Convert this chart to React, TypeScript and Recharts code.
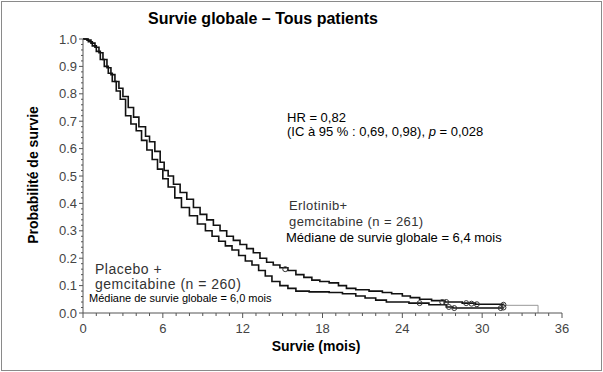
import { ComposedChart, Line, Scatter, XAxis, YAxis } from "recharts"

// Kaplan-Meier estimates: [month, survival probability]
const erlotinibSteps = [
  [0, 1.0], [0.3, 0.996], [0.6, 0.985], [0.9, 0.97], [1.2, 0.95], [1.5, 0.925],
  [1.8, 0.895], [2.1, 0.87], [2.4, 0.845], [2.7, 0.82], [3.0, 0.79], [3.4, 0.75],
  [3.8, 0.715], [4.2, 0.68], [4.7, 0.645], [5.0, 0.625], [5.4, 0.59], [5.8, 0.55],
  [6.1, 0.52], [6.4, 0.5], [6.8, 0.47], [7.3, 0.44], [7.8, 0.415], [8.3, 0.385],
  [8.8, 0.36], [9.3, 0.34], [9.8, 0.32], [10.3, 0.3], [10.8, 0.28], [11.3, 0.265],
  [11.8, 0.25], [12.3, 0.235], [12.8, 0.22], [13.3, 0.2], [13.8, 0.185], [14.3, 0.175],
  [14.8, 0.165], [15.4, 0.155], [16.0, 0.14], [16.6, 0.13], [17.2, 0.12], [17.8, 0.115],
  [18.5, 0.11], [19.2, 0.1], [19.8, 0.09], [20.5, 0.085], [21.5, 0.08], [22.5, 0.075],
  [23.2, 0.07], [24.0, 0.062], [24.6, 0.056], [25.3, 0.05], [26.2, 0.045], [27.2, 0.04],
  [28.5, 0.036], [29.5, 0.032], [31.6, 0.03],
]
const erlotinibTail = [[31.6, 0.028], [34.2, 0.028], [34.2, 0]]
const erlotinibCensored = [
  [15.2, 0.16], [27.0, 0.04], [27.3, 0.04], [28.8, 0.036], [29.2, 0.034], [29.6, 0.032], [31.6, 0.03],
]

const placeboSteps = [
  [0, 1.0], [0.4, 0.99], [0.7, 0.975], [1.0, 0.955], [1.3, 0.925], [1.6, 0.9],
  [1.9, 0.875], [2.2, 0.845], [2.5, 0.81], [2.8, 0.78], [3.2, 0.72], [3.6, 0.69],
  [4.0, 0.665], [4.4, 0.63], [4.8, 0.595], [5.2, 0.56], [5.6, 0.525], [6.0, 0.49],
  [6.4, 0.46], [6.9, 0.42], [7.4, 0.385], [8.0, 0.355], [8.6, 0.325], [9.2, 0.3],
  [9.7, 0.28], [10.2, 0.262], [10.7, 0.245], [11.2, 0.23], [11.7, 0.21], [12.2, 0.19],
  [12.7, 0.175], [13.2, 0.155], [13.7, 0.135], [14.2, 0.115], [14.8, 0.1], [15.4, 0.09],
  [16.0, 0.08], [17.0, 0.077], [18.5, 0.075], [19.5, 0.07], [20.5, 0.062], [21.2, 0.055],
  [22.0, 0.047], [22.8, 0.04], [24.5, 0.036], [26.0, 0.03], [27.3, 0.022], [27.8, 0.018],
  [31.6, 0.018],
]
const placeboCensored = [[25.3, 0.036], [27.5, 0.022], [27.9, 0.018], [31.4, 0.018], [31.6, 0.02]]

const xLabels = [0, 6, 12, 18, 24, 30, 36]
const yLabels = ["0.0", "0.1", "0.2", "0.3", "0.4", "0.5", "0.6", "0.7", "0.8", "0.9", "1.0"]

const toPts = (arr: number[][]) => arr.map(([t, s]) => ({ t, s }))

const xTicks = Array.from({ length: 37 }, (_, i) => i)
const yTicks = Array.from({ length: 51 }, (_, i) => Math.round(i * 2) / 100)

const font = "'Liberation Sans', Arial, sans-serif"

const XTick = (props: any) => {
  const { x, y, payload } = props
  const major = xLabels.includes(payload.value)
  return (
    <g>
      <line x1={x} y1={y} x2={x} y2={y + (major ? 5 : 3)} stroke="#555" />
      {major && (
        <text x={x} y={y + 20} textAnchor="middle" fontSize={13} fill="#444" fontFamily={font}>
          {payload.value}
        </text>
      )}
    </g>
  )
}

const YTick = (props: any) => {
  const { x, y, payload } = props
  const idx = Math.round(payload.value * 10)
  const major = Math.abs(payload.value * 10 - idx) < 1e-6
  return (
    <g>
      <line x1={x - (major ? 4 : 2)} y1={y} x2={x} y2={y} stroke="#555" />
      {major && (
        <text x={x - 6} y={y} dy="0.36em" textAnchor="end" fontSize={13} fill="#444" fontFamily={font}>
          {yLabels[idx]}
        </text>
      )}
    </g>
  )
}

const Circle = (props: any) => {
  const { cx, cy } = props
  return <circle cx={cx} cy={cy} r={2.5} fill="none" stroke="#333" strokeWidth={1} />
}

const txt = (left: number, top: number, size: number, extra: any = {}) => ({
  position: "absolute" as const,
  left,
  top,
  fontSize: size,
  fontFamily: font,
  lineHeight: 1,
  whiteSpace: "nowrap" as const,
  color: "#000",
  ...extra,
})

const App = () => {
  return (
    <div style={{ position: "absolute", left: 0, top: 0, width: 603, height: 372, background: "#fff" }}>
      <div
        style={{
          position: "absolute",
          left: 1,
          top: 1,
          width: 599,
          height: 368,
          border: "1px solid #8a8a8a",
        }}
      />
      <ComposedChart width={603} height={372} margin={{ top: 39, right: 41, bottom: 29, left: 0 }}>
        <XAxis
          type="number"
          dataKey="t"
          domain={[0, 36]}
          ticks={xTicks}
          interval={0}
          height={30}
          tickSize={0}
          tickMargin={0}
          tick={<XTick />}
          axisLine={{ stroke: "#555" }}
          allowDataOverflow
        />
        <YAxis
          type="number"
          dataKey="s"
          domain={[0, 1]}
          ticks={yTicks}
          interval={0}
          width={83}
          tickSize={0}
          tickMargin={0}
          tick={<YTick />}
          axisLine={{ stroke: "#555" }}
        />
        <Line
          data={toPts(erlotinibTail)}
          dataKey="s"
          type="stepAfter"
          stroke="#999"
          strokeWidth={1}
          dot={false}
          isAnimationActive={false}
        />
        <Line
          data={toPts(placeboSteps)}
          dataKey="s"
          type="stepAfter"
          stroke="#111"
          strokeWidth={1.6}
          dot={false}
          isAnimationActive={false}
        />
        <Line
          data={toPts(erlotinibSteps)}
          dataKey="s"
          type="stepAfter"
          stroke="#111"
          strokeWidth={1.6}
          dot={false}
          isAnimationActive={false}
        />
        <Scatter data={toPts(erlotinibCensored)} shape={<Circle />} isAnimationActive={false} />
        <Scatter data={toPts(placeboCensored)} shape={<Circle />} isAnimationActive={false} />
      </ComposedChart>

      <div style={txt(148, 11, 16, { fontWeight: "bold" })}>Survie globale – Tous patients</div>
      <div
        style={txt(33, 175, 14, {
          fontWeight: "bold",
          transform: "translate(-50%, -50%) rotate(-90deg)",
        })}
      >
        Probabilité de survie
      </div>
      <div style={txt(316, 339, 14, { fontWeight: "bold", transform: "translateX(-50%)" })}>
        Survie (mois)
      </div>

      <div style={txt(287, 111, 13)}>HR = 0,82</div>
      <div style={txt(287, 125, 13)}>
        (IC à 95 % : 0,69, 0,98), <i>p</i> = 0,028
      </div>

      <div style={txt(289, 199, 13, { color: "#333", letterSpacing: 0.4 })}>Erlotinib+</div>
      <div style={txt(289, 215, 13, { color: "#333", letterSpacing: 0.4 })}>gemcitabine (n = 261)</div>
      <div style={txt(286, 231, 13)}>Médiane de survie globale = 6,4 mois</div>

      <div style={txt(95, 262, 14, { color: "#333", letterSpacing: 0.5 })}>Placebo +</div>
      <div style={txt(95, 277, 14, { color: "#333", letterSpacing: 0.5 })}>gemcitabine (n = 260)</div>
      <div style={txt(89, 293, 11)}>Médiane de survie globale = 6,0 mois</div>
    </div>
  )
}

export default App
